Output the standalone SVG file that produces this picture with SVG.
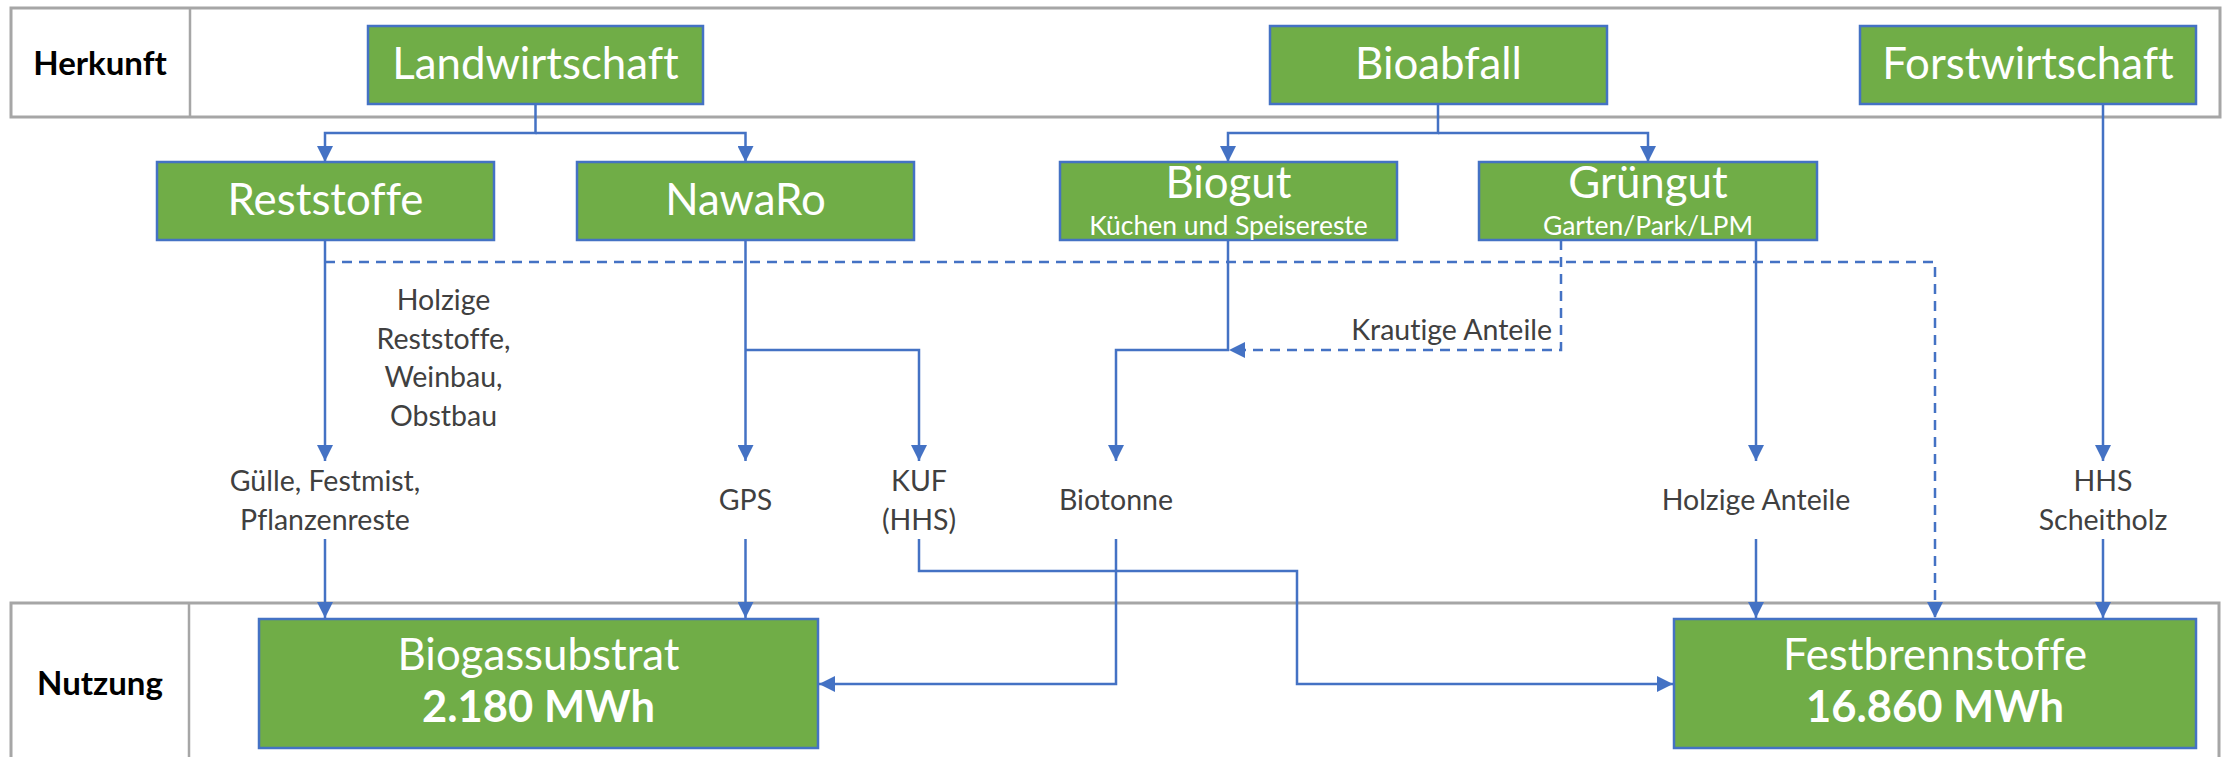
<svg xmlns="http://www.w3.org/2000/svg" width="2224" height="757" viewBox="0 0 2224 757">
  <defs>
    <style>
      text { font-variant-ligatures: none; }
      .band { fill: #ffffff; stroke: #a6a6a6; stroke-width: 3; }
      .divider { stroke: #a6a6a6; stroke-width: 2.5; }
      .band-label { font-family: Lato, "Liberation Sans", sans-serif; font-weight: 700; font-size: 33px; fill: #000000; text-anchor: middle; }
      .box { fill: #70ad47; stroke: #4472c4; stroke-width: 2.5; }
      .title { font-family: Lato, "Liberation Sans", sans-serif; font-size: 43.8px; fill: #ffffff; text-anchor: middle; }
      .title-bold { font-family: Lato, "Liberation Sans", sans-serif; font-weight: 700; font-size: 43.5px; fill: #ffffff; text-anchor: middle; }
      .subtitle { font-family: Lato, "Liberation Sans", sans-serif; font-size: 26.5px; fill: #ffffff; text-anchor: middle; }
      .label { font-family: Lato, "Liberation Sans", sans-serif; font-size: 28.5px; fill: #404040; text-anchor: middle; }
      .flow { fill: none; stroke: #4472c4; stroke-width: 2.5; }
      .dashed { stroke-dasharray: 10 7; }
    </style>
    <marker id="arrow" markerUnits="userSpaceOnUse" viewBox="0 0 16 16" markerWidth="16" markerHeight="16" refX="16" refY="8" orient="auto">
      <path d="M0,0 L16,8 L0,16 Z" fill="#4472c4"/>
    </marker>
  </defs>

  <!-- Swimlane bands -->
  <g id="band-herkunft">
    <rect class="band" x="11" y="8" width="2209" height="109"/>
    <line class="divider" x1="190" y1="8" x2="190" y2="117"/>
    <text class="band-label" x="100" y="75">Herkunft</text>
  </g>
  <g id="band-nutzung">
    <rect class="band" x="11" y="603" width="2208" height="170"/>
    <line class="divider" x1="189" y1="603" x2="189" y2="757"/>
    <text class="band-label" x="100" y="695">Nutzung</text>
  </g>

  <!-- Connectors -->
  <g id="connectors">
    <path class="flow" d="M535.5,104 V133 H325 V162" marker-end="url(#arrow)"/>
    <path class="flow" d="M535.5,133 H745.5 V162" marker-end="url(#arrow)"/>
    <path class="flow" d="M1438,104 V133 H1228 V162" marker-end="url(#arrow)"/>
    <path class="flow" d="M1438,133 H1648 V162" marker-end="url(#arrow)"/>

    <path class="flow" d="M325,240 V461" marker-end="url(#arrow)"/>
    <path class="flow dashed" d="M325,262 H1935 V618" marker-end="url(#arrow)"/>
    <path class="flow" d="M745.5,240 V461" marker-end="url(#arrow)"/>
    <path class="flow" d="M745.5,350 H919 V461" marker-end="url(#arrow)"/>
    <path class="flow" d="M1228,240 V350 H1116 V461" marker-end="url(#arrow)"/>
    <path class="flow dashed" d="M1561,240 V350 H1229" marker-end="url(#arrow)"/>
    <path class="flow" d="M1756,240 V461" marker-end="url(#arrow)"/>
    <path class="flow" d="M2103,104 V461" marker-end="url(#arrow)"/>

    <path class="flow" d="M325,539 V618" marker-end="url(#arrow)"/>
    <path class="flow" d="M745.5,539 V618" marker-end="url(#arrow)"/>
    <path class="flow" d="M919,539 V571 H1297 V684 H1673" marker-end="url(#arrow)"/>
    <path class="flow" d="M1116,539 V684 H819" marker-end="url(#arrow)"/>
    <path class="flow" d="M1756,539 V618" marker-end="url(#arrow)"/>
    <path class="flow" d="M2103,539 V618" marker-end="url(#arrow)"/>
  </g>

  <!-- Sources -->
  <g id="landwirtschaft">
    <rect class="box" x="368" y="26" width="335" height="78"/>
    <text class="title" x="535.5" y="79">Landwirtschaft</text>
  </g>
  <g id="bioabfall">
    <rect class="box" x="1270" y="26" width="337" height="78"/>
    <text class="title" x="1438.5" y="79">Bioabfall</text>
  </g>
  <g id="forstwirtschaft">
    <rect class="box" x="1860" y="26" width="336" height="78"/>
    <text class="title" x="2028" y="79">Forstwirtschaft</text>
  </g>

  <!-- Sub-categories -->
  <g id="reststoffe">
    <rect class="box" x="157" y="162" width="337" height="78"/>
    <text class="title" x="325.5" y="215">Reststoffe</text>
  </g>
  <g id="nawaro">
    <rect class="box" x="577" y="162" width="337" height="78"/>
    <text class="title" x="745.5" y="215">NawaRo</text>
  </g>
  <g id="biogut">
    <rect class="box" x="1060" y="162" width="337" height="78"/>
    <text class="title" x="1228.5" y="198">Biogut</text>
    <text class="subtitle" x="1228.5" y="235">Küchen und Speisereste</text>
  </g>
  <g id="gruengut">
    <rect class="box" x="1479" y="162" width="338" height="78"/>
    <text class="title" x="1648" y="198">Grüngut</text>
    <text class="subtitle" x="1648" y="235">Garten/Park/LPM</text>
  </g>

  <!-- Flow labels -->
  <g id="labels">
    <text class="label" x="443.5" y="310">Holzige</text>
    <text class="label" x="443.5" y="348.5">Reststoffe,</text>
    <text class="label" x="443.5" y="387">Weinbau,</text>
    <text class="label" x="443.5" y="425.5">Obstbau</text>
    <text class="label" x="1552" y="340" style="text-anchor:end">Krautige Anteile</text>
    <text class="label" x="325" y="491">Gülle, Festmist,</text>
    <text class="label" x="325" y="530">Pflanzenreste</text>
    <text class="label" x="745.5" y="510">GPS</text>
    <text class="label" x="919" y="491">KUF</text>
    <text class="label" x="919" y="530">(HHS)</text>
    <text class="label" x="1116" y="510">Biotonne</text>
    <text class="label" x="1756" y="510">Holzige Anteile</text>
    <text class="label" x="2103" y="491">HHS</text>
    <text class="label" x="2103" y="530">Scheitholz</text>
  </g>

  <!-- Uses -->
  <g id="biogassubstrat">
    <rect class="box" x="259" y="619" width="559" height="129"/>
    <text class="title" x="538.5" y="670">Biogassubstrat</text>
    <text class="title-bold" x="538.5" y="722">2.180 MWh</text>
  </g>
  <g id="festbrennstoffe">
    <rect class="box" x="1674" y="619" width="522" height="129"/>
    <text class="title" x="1935" y="670">Festbrennstoffe</text>
    <text class="title-bold" x="1935" y="722">16.860 MWh</text>
  </g>
</svg>
